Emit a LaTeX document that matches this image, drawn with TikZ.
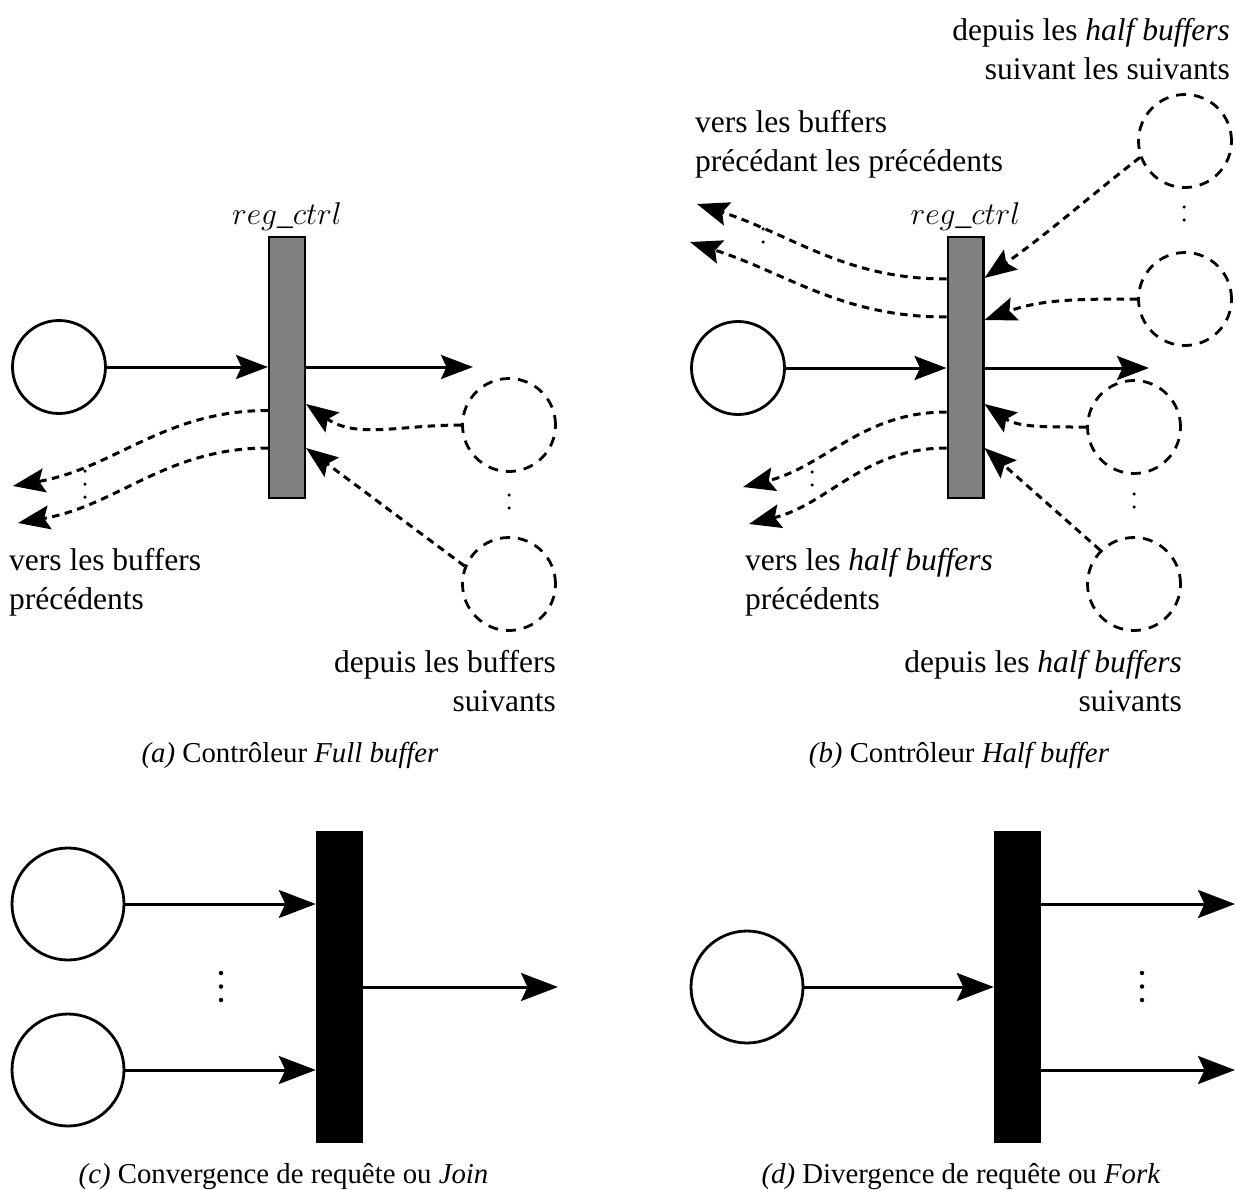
\RequirePackage{fix-cm}
\documentclass[tikz,border=0pt]{standalone}
\usepackage{fontspec}
\setmainfont{Liberation Serif}
\usetikzlibrary{arrows.meta,calc}

\tikzset{
  lbl/.style={inner sep=0pt, font=\fontsize{31.5}{39}\selectfont},
  captxt/.style={inner sep=0pt, font=\fontsize{28.8}{34}\selectfont},
  place/.style={circle, draw, line width=2.8pt, minimum size=93pt, inner sep=0pt},
  bigplace/.style={place, minimum size=112pt},
  ghost/.style={place, dash pattern=on 10pt off 8pt},
  ctrl/.style={draw, line width=2.4pt, fill=black!50, minimum width=35.6pt, minimum height=260.6pt, inner sep=0pt},
  sync/.style={fill=black, minimum width=47pt, minimum height=312pt, inner sep=0pt},
  arr/.style={line width=3pt, -{Stealth[length=32pt,width=24pt,inset=5.5pt]}},
  bigarr/.style={line width=3pt, -{Stealth[length=37pt,width=28pt,inset=6.5pt]}},
  darr/.style={arr, dash pattern=on 7.5pt off 5.5pt},
  dots/.style={line width=3.5pt, line cap=round, dash pattern=on 0pt off 13pt},
  bigdots/.style={line width=4.5pt, line cap=round, dash pattern=on 0pt off 13.5pt},
}

\begin{document}
\begin{tikzpicture}[x=1pt,y=-1pt]
\useasboundingbox (0,0) rectangle (1236,1190);

% ---------- (a) full buffer controller ----------
\node[place] (ain) at (59,367) {};
\node[ctrl] (ra) at (287,367.5) {};
\node[lbl, anchor=base] (ral) at ([yshift=11pt]ra.north) {$reg\_ctrl$};
\node[ghost] (af1) at (509,425) {};
\node[ghost] (af2) at (509,584) {};
\coordinate (aout) at (473,367);
\coordinate (ap1) at (13,486);
\coordinate (ap2) at (18,523);

\draw[arr] (ain.east) -- (ain.east -| ra.west);
\draw[arr] (ra.east |- ain.east) -- (aout);
\draw[darr] (af1.west) to[out=180,in=-35] ([yshift=-36.5pt]ra.east);
\draw[darr] (af2.158) -- ([yshift=-80.5pt]ra.east);
\draw[darr] ([yshift=-43pt]ra.west) to[out=180,in=10] (ap1);
\draw[darr] ([yshift=-80.5pt]ra.west) to[out=180,in=10] (ap2);
\draw[dots] (85,471) -- (85,497);
\draw[dots] (509,495) -- (509,521);

% two-line labels: the base anchor sits on the last line
\node[lbl, anchor=base west, align=left] (atxt1) at (9,609) {vers les buffers\\précédents};
\node[lbl, anchor=base east, align=right] (atxt2) at (556,711) {depuis les buffers\\suivants};
\node[captxt, anchor=base] (acap) at (290,762) {\textit{(a)} Contrôleur \textit{Full buffer}};

% ---------- (b) half buffer controller ----------
\node[place] (bin) at (738,368) {};
\node[ctrl] (rb) at (965.5,367.5) {};
\node[lbl, anchor=base] (rbl) at ([yshift=11pt]rb.north) {$reg\_ctrl$};
\node[ghost] (bt1) at (1185,141) {};
\node[ghost] (bt2) at (1185,299) {};
\node[ghost] (bb1) at (1134,427) {};
\node[ghost] (bb2) at (1134,584) {};
\coordinate (bout) at (1149,368);
\coordinate (bq1) at (697,204);
\coordinate (bq2) at (690,242);
\coordinate (bp1) at (743,487);
\coordinate (bp2) at (749,524);

\draw[arr] (bin.east) -- (bin.east -| rb.west);
\draw[arr] (rb.east |- bin.east) -- (bout);
\draw[darr] (bt1.200) to[out=218,in=35] ([yshift=89.5pt]rb.east);
\draw[darr] (bt2.west) to[out=180,in=20] ([yshift=47.5pt]rb.east);
\draw[darr] (bb1.west) to[out=180,in=-35] ([yshift=-36.5pt]rb.east);
\draw[darr] (bb2.135) -- ([yshift=-80.5pt]rb.east);
\draw[darr] ([yshift=88.5pt]rb.west) to[out=180,in=-18] (bq1);
\draw[darr] ([yshift=50.5pt]rb.west) to[out=180,in=-18] (bq2);
\draw[darr] ([yshift=-44.5pt]rb.west) to[out=180,in=14] (bp1);
\draw[darr] ([yshift=-80.5pt]rb.west) to[out=180,in=14] (bp2);
\draw[dots] (763,229) -- (763,255);
\draw[dots] (1184,207) -- (1184,233);
\draw[dots] (1134,494) -- (1134,520);
\draw[dots] (812,472) -- (812,498);

\node[lbl, anchor=base east, align=right] (btxt1) at (1230,80) {depuis les \textit{half buffers}\\suivant les suivants};
\node[lbl, anchor=base west, align=left] (btxt2) at (695,172) {vers les buffers\\précédant les précédents};
\node[lbl, anchor=base west, align=left] (btxt3) at (745,609) {vers les \textit{half buffers}\\précédents};
\node[lbl, anchor=base east, align=right] (btxt4) at (1182,711) {depuis les \textit{half buffers}\\suivants};
\node[captxt, anchor=base] (bcap) at (959,762) {\textit{(b)} Contrôleur \textit{Half buffer}};

% ---------- (c) join ----------
\node[bigplace] (c1) at (68,904) {};
\node[bigplace] (c2) at (68,1070) {};
\node[sync] (cr) at (339.5,987) {};
\coordinate (cout) at (558,987);
\draw[bigarr] (c1.east) -- (c1.east -| cr.west);
\draw[bigarr] (c2.east) -- (c2.east -| cr.west);
\draw[bigarr] (cr.east) -- (cout);
\draw[bigdots] (221,973) -- (221,1000);
\node[captxt, anchor=base] (ccap) at (283.5,1183.5) {\textit{(c)} Convergence de requête ou \textit{Join}};

% ---------- (d) fork ----------
\node[bigplace] (d1) at (747,987) {};
\node[sync] (dr) at (1017.5,987) {};
\coordinate (dout1) at (1235,904);
\coordinate (dout2) at (1235,1070);
\draw[bigarr] (d1.east) -- (d1.east -| dr.west);
\draw[bigarr] (dr.east |- dout1) -- (dout1);
\draw[bigarr] (dr.east |- dout2) -- (dout2);
\draw[bigdots] (1142,973) -- (1142,1000);
\node[captxt, anchor=base] (dcap) at (961,1183.5) {\textit{(d)} Divergence de requête ou \textit{Fork}};
\end{tikzpicture}
\end{document}
